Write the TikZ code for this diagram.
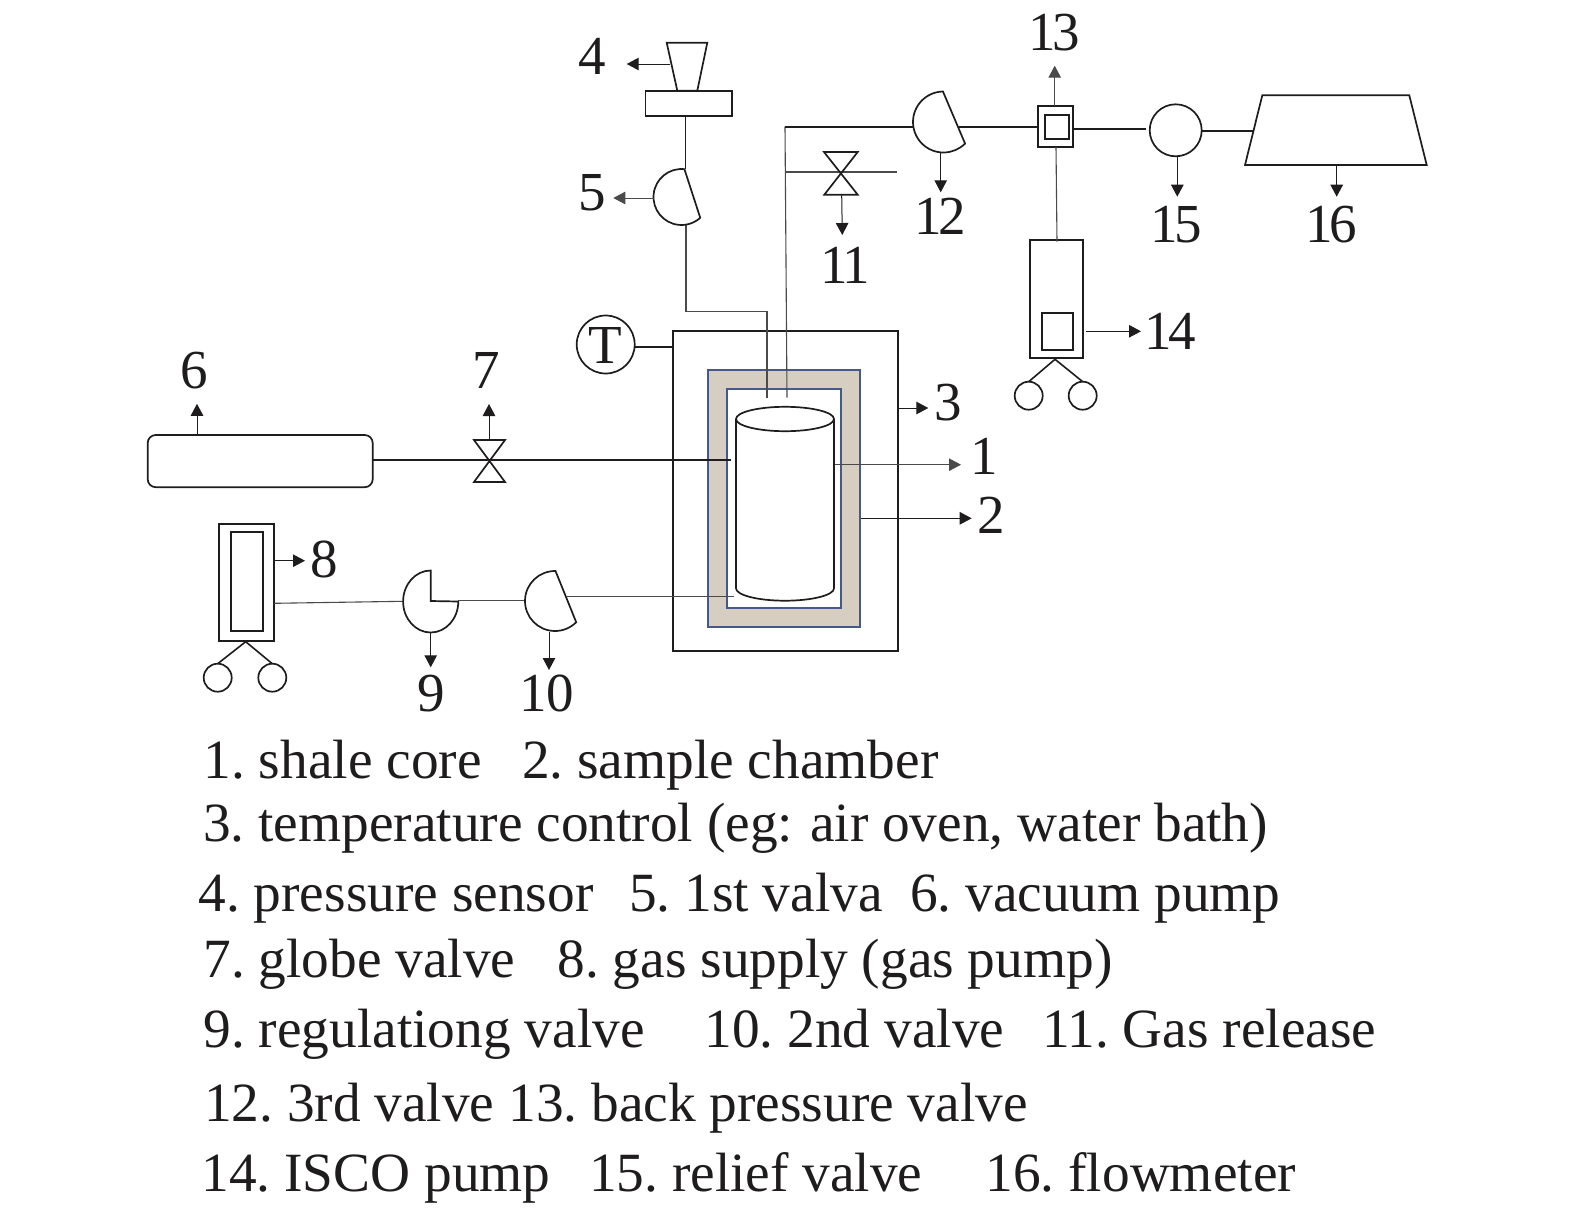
\documentclass[tikz,border=0pt]{standalone}
\usepackage{fontspec}
\setmainfont{Liberation Serif}
\usetikzlibrary{arrows.meta}
\definecolor{ink}{HTML}{1F1C1D}
\definecolor{thin}{HTML}{4A4A4A}
\definecolor{beige}{HTML}{D6CEC1}
\definecolor{chamber}{HTML}{46598C}
\frenchspacing
\tikzset{
  lbl/.style={font=\fontsize{55}{60}\selectfont,text=ink,anchor=base,inner sep=0pt,outer sep=0pt},
  lbltwo/.style={lbl,font=\fontsize{55}{60}\selectfont\addfontfeature{LetterSpace=-6}},
  leg/.style={lbl,anchor=base west,font=\fontsize{55.35}{60}\selectfont},
  shp/.style={draw=ink,line width=1.7pt,inner sep=0pt,outer sep=0pt,fill=white,rectangle},
  circ/.style={draw=ink,line width=1.7pt,inner sep=0pt,outer sep=0pt,circle,fill=white},
  pipe/.style={draw=ink,line width=1.6pt},
  tpipe/.style={draw=thin,line width=1.1pt},
  arr/.style={draw=ink,line width=1pt,-{Triangle[length=12pt,width=12.5pt]}},
  solid shape/.style={draw=ink,line width=1.7pt,line join=miter,fill=white}
}
\newcommand{\halfvalve}[5]{% centre name, radius, start, end
  \draw[solid shape] ([shift={(#3:#2)}]#1) arc[start angle=#3,end angle=#4,radius=#2] -- cycle;}
\begin{document}
\begin{tikzpicture}[yscale=-1,x=1pt,y=1pt]
\useasboundingbox (0,0) rectangle (1575,1213);

% coordinates of fittings
\coordinate (v5c) at (681.5,197);
\coordinate (v12c) at (943.5,122);
\coordinate (v10c) at (555,601);
\coordinate (v9c) at (430.7,601);
\coordinate (v11c) at (841,173);
\coordinate (v7c) at (489,460);

% free arrow ends
\coordinate (a4) at (626.7,64);
\coordinate (a5) at (613.3,198);
\coordinate (a6) at (197,403.8);
\coordinate (a7) at (489,404);
\coordinate (a8) at (305,560.7);
\coordinate (a9) at (430.7,667.3);
\coordinate (a10) at (549,670);
\coordinate (a11) at (842.3,235);
\coordinate (a12) at (940.7,192.3);
\coordinate (a13) at (1054.7,65.7);
\coordinate (a14) at (1141,331.3);
\coordinate (a15) at (1177.3,196.7);
\coordinate (a16) at (1336.7,196.7);
\coordinate (a1) at (961,464.7);
\coordinate (a2) at (971.7,518.3);
\coordinate (a3) at (928.3,408);

% oven and chamber
\node[shp,fill=none,minimum width=224.4pt,minimum height=320.6pt] (oven) at (785.5,491) {};
\node[draw=chamber,line width=1.7pt,fill=beige,inner sep=0pt,outer sep=0pt,minimum width=152pt,minimum height=256.7pt] (chamberout) at (784.3,498.35) {};
\node[draw=chamber,line width=1.7pt,fill=white,inner sep=0pt,outer sep=0pt,minimum width=114pt,minimum height=218.7pt] (chamberin) at (784.3,498.65) {};

% shale core
\coordinate (coreL) at (736,419);
\coordinate (coreR) at (834,419);
\coordinate (coreBL) at (736,588.3);
\coordinate (coreBR) at (834,588.3);
\draw[draw=ink,line width=1.7pt] (coreL) -- (coreBL) arc[start angle=180,end angle=0,x radius=49,y radius=12.4] -- (coreR);
\draw[draw=ink,line width=1.7pt] (785,419) ellipse[x radius=49,y radius=12.2];

% pipes
\coordinate (p5b) at (686,224.5);
\coordinate (p5e) at (686,311.7);
\coordinate (p5f) at (767,311.7);
\coordinate (p5g) at (767,397.7);
\coordinate (p12a) at (785,126.7);
\coordinate (p12b) at (913.5,126.7);
\coordinate (p12g) at (787,397.7);
\coordinate (p11a) at (785.7,172);
\coordinate (p11b) at (896.7,172);
\draw[tpipe] (p5b) -- (p5e) -- (p5f) -- (p5g);
\draw[tpipe] (p12a) -- (p12g);
\draw[pipe] (p12a) -- (p12b);
\draw[tpipe] (p11a) -- (p11b);

% sensor 4
\node[shp,minimum width=86.7pt,minimum height=25pt] (sens) at (688.7,103.2) {};
\coordinate (s1) at (666.7,42.7);
\coordinate (s2) at (707.3,42.7);
\coordinate (s3) at (697.3,90.7);
\coordinate (s4) at (677.3,90.7);
\draw[solid shape] (s1) -- (s2) -- (s3) -- (s4) -- cycle;
\coordinate (s5) at (685.3,115.7);
\coordinate (s6) at (685.3,169);
\draw[pipe] (s5) -- (s6);
\coordinate (s7) at (670,64);
\draw[arr] (s7) -- (a4);

% valve 5
\halfvalve{v5c}{28}{276}{48}{}
\coordinate (v5l) at (653.5,198);
\draw[arr,draw=thin] (v5l) -- (a5);

% bowtie 11
\draw[solid shape,fill=none] (824,152) -- (857.7,152) -- (824.3,194.7) -- (857.7,194.7) -- cycle;
\coordinate (v11b) at (841.7,195);
\draw[arr] (v11b) -- (a11);

% valve 12
\halfvalve{v12c}{30.5}{269}{45}{}
\coordinate (v12b) at (940.7,152.6);
\draw[arr] (v12b) -- (a12);

% back pressure valve 13
\coordinate (v12r) at (959,126.7);
\node[shp,minimum width=35pt,minimum height=40.7pt] (bpv) at (1055.2,126.65) {};
\node[shp,minimum width=23.7pt,minimum height=23.7pt] (bpvin) at (1056.85,127.15) {};
\draw[pipe] (v12r) -- (v12r -| bpv.west);
\coordinate (bpvt) at (1054.7,106.3);
\draw[arr,draw=thin] (bpvt) -- (a13);

% ISCO pump 14
\node[shp,minimum width=53.6pt,minimum height=118.6pt] (isco) at (1056.5,299) {};
\node[shp,minimum width=31.6pt,minimum height=37.6pt] (iscoin) at (1057.5,331.5) {};
\coordinate (bpvb) at (1056,147);
\coordinate (iscot) at (1057,241.7);
\draw[tpipe] (bpvb) -- (iscot);
\coordinate (iscor) at (1086,331.3);
\draw[arr] (iscor) -- (a14);
\coordinate (iscoa) at (1055,359.3);
\node[circ,minimum size=28pt] (iscow1) at (1028.7,395.7) {};
\node[circ,minimum size=28pt] (iscow2) at (1082.7,395.7) {};
\draw[pipe] (iscoa) -- (iscow1.north);
\draw[pipe] (iscoa) -- (iscow2.north);

% relief valve 15 and flowmeter 16
\node[circ,minimum size=52pt] (relief) at (1175.7,130.3) {};
\coordinate (bpvr) at (1072.7,128.7);
\coordinate (reliefl) at (1145.7,128.7);
\draw[pipe] (bpvr) -- (reliefl);
\coordinate (f1) at (1262.3,95.3);
\coordinate (f2) at (1409.3,95.3);
\coordinate (f3) at (1426.7,165);
\coordinate (f4) at (1245,165);
\draw[solid shape] (f1) -- (f2) -- (f3) -- (f4) -- cycle;
\coordinate (fl) at (1253.3,131);
\coordinate (reliefr) at (1201.7,131);
\draw[pipe] (reliefr) -- (fl);
\coordinate (reliefb) at (1177.3,157);
\draw[arr] (reliefb) -- (a15);
\coordinate (fb) at (1336.7,165.7);
\draw[arr] (fb) -- (a16);

% thermometer
\node[circ,minimum size=58pt] (therm) at (605.7,344.5) {};
\node[lbl] (tlabel) at (605.2,363) {T};
\coordinate (thermr) at (634.7,346.7);
\draw[pipe] (thermr) -- (thermr -| oven.west);

% vacuum pump 6, globe valve 7
\node[shp,rounded corners=8pt,minimum width=225pt,minimum height=52.2pt] (vac) at (260.2,461.1) {};
\coordinate (vacr) at (372.7,460);
\coordinate (corein) at (731,460);
\draw[pipe] (vacr) -- (corein);
\draw[solid shape] (474,440) -- (505,440) -- (474,482) -- (505,482) -- cycle;
\coordinate (vact) at (197,435);
\draw[arr] (vact) -- (a6);
\coordinate (v7t) at (489,440);
\draw[arr] (v7t) -- (a7);

% chamber call-outs
\coordinate (ovenr) at (897.7,408);
\draw[arr] (ovenr) -- (a3);
\coordinate (corer) at (835,464.7);
\draw[arr,draw=thin] (corer) -- (a1);
\coordinate (chr) at (861,518.3);
\draw[arr] (chr) -- (a2);

% gas pump 8
\node[shp,minimum width=55pt,minimum height=117pt] (gas) at (246.5,582.5) {};
\node[shp,minimum width=31.7pt,minimum height=99.3pt] (gasin) at (247.15,581.35) {};
\coordinate (gasr) at (274,560.7);
\draw[arr] (gasr) -- (a8);
\coordinate (gasa) at (245.7,641.7);
\node[circ,minimum size=28pt] (gasw1) at (217.7,677.7) {};
\node[circ,minimum size=28pt] (gasw2) at (272.3,677.7) {};
\draw[pipe] (gasa) -- (gasw1.north);
\draw[pipe] (gasa) -- (gasw2.north);
\coordinate (gasl) at (274,603.3);
\coordinate (v9l) at (403.3,601.3);
\draw[tpipe] (gasl) -- (v9l);

% valve 9
\coordinate (v9t) at (430.7,570.5);
\coordinate (v9r) at (458.3,601);
\draw[solid shape] (v9t) arc[start angle=270,end angle=0,x radius=27.6,y radius=31] -- (v9c) -- cycle;
\coordinate (v10l) at (525,600.6);
\coordinate (v9rr) at (458.3,600.6);
\draw[tpipe] (v9rr) -- (v10l);
\coordinate (v9b) at (430.7,632.3);
\draw[arr] (v9b) -- (a9);

% valve 10
\halfvalve{v10c}{30}{271}{45}{}
\coordinate (v10r) at (566.7,596.2);
\coordinate (coreb) at (734,596.2);
\draw[tpipe] (v10r) -- (coreb);
\coordinate (v10b) at (549,632.3);
\draw[arr] (v10b) -- (a10);

% number labels
\node[lbl] (n1) at (984,474.3) {1};
\node[lbl] (n2) at (991.3,533.3) {2};
\node[lbl] (n3) at (948.7,420) {3};
\node[lbl] (n4) at (592.5,74) {4};
\node[lbl] (n5) at (592.5,210) {5};
\node[lbl] (n6) at (193.9,388.7) {6};
\node[lbl] (n7) at (486,388.7) {7};
\node[lbl] (n8) at (324,577.7) {8};
\node[lbl] (n9) at (431.5,711) {9};
\node[lbl] (n10) at (546.7,711) {10};
\node[lbltwo] (n11) at (845.5,283.3) {11};
\node[lbltwo] (n12) at (940.5,234.3) {12};
\node[lbltwo] (n13) at (1054.5,50) {13};
\node[lbltwo] (n14) at (1170,349.3) {14};
\node[lbltwo] (n15) at (1176,242.7) {15};
\node[lbltwo] (n16) at (1331,242.7) {16};

% legend
\node[leg] (l1) at (203.5,778.5) {1. shale core};
\node[leg] (l2) at (522,778.5) {2. sample chamber};
\node[leg] (l3) at (203,841.5) {3. temperature control (eg:\hspace{3pt} air oven, water bath)};
\node[leg] (l4) at (198.5,911.5) {4. pressure sensor};
\node[leg] (l5) at (629,911.5) {5. 1st valva};
\node[leg] (l6) at (910,911.5) {6. vacuum pump};
\node[leg] (l7) at (203.5,977) {7. globe valve};
\node[leg] (l8) at (557.5,977) {8. gas supply (gas pump)};
\node[leg] (l9) at (203.5,1047.5) {9. regulationg valve};
\node[leg] (l10) at (704.5,1047.5) {10. 2nd valve};
\node[leg] (l11) at (1042,1047.5) {11. Gas release};
\node[leg] (l12) at (204,1121) {12. 3rd valve 13. back pressure valve};
\node[leg] (l14) at (201.5,1191) {14. ISCO pump};
\node[leg] (l15) at (589,1191) {15. relief valve};
\node[leg] (l16) at (985.5,1191) {16. flowmeter};
\end{tikzpicture}
\end{document}
